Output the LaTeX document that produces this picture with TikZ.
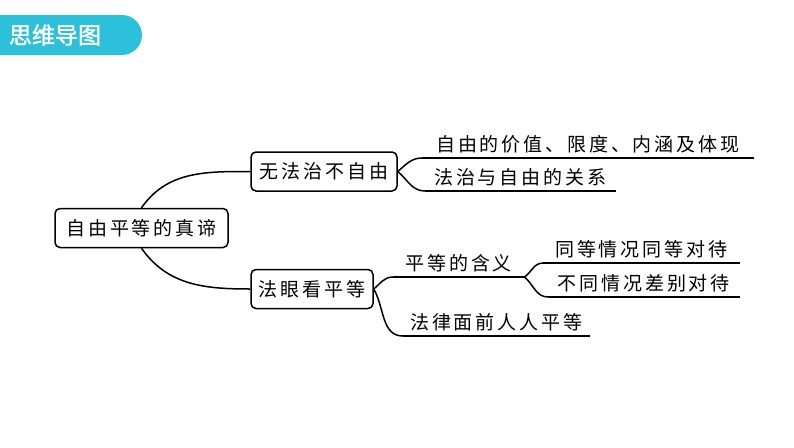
\documentclass[tikz,border=0pt]{standalone}
\usepackage{fontspec}
\usepackage{xcolor}
\usepackage{tikz}
\newfontfamily\cjk[LetterSpace=15]{Noto Sans CJK SC}
\newfontfamily\cjktitle[FakeBold=1.5]{Noto Sans CJK SC}
\definecolor{banner}{HTML}{2CC0DA}

\begin{document}
\begin{tikzpicture}[x=1pt,y=-1pt,line width=1.5pt,
  box/.style={draw=black,rounded corners=5pt,minimum height=39pt,inner sep=0pt,font=\cjk\fontsize{19}{21}\selectfont},
  leaf/.style={anchor=south west,inner xsep=0pt,inner ysep=4pt,font=\cjk\fontsize{19}{21}\selectfont}]
\useasboundingbox (0,0) rectangle (794,447);
\fill[banner] (0,15) -- (122,15) arc[start angle=-90,end angle=90,radius=20] -- (0,55) -- cycle;
\node[text=white,font=\cjktitle\fontsize{23}{25}\selectfont] (title) at (55,35) {思维导图};
\node[box,minimum width=173pt] (root) at (141.5,228) {自由平等的真谛};
\node[box,minimum width=146pt] (free) at (324,171.5) {无法治不自由};
\node[box,minimum width=122pt] (equal) at (312,289) {法眼看平等};
\node[leaf,minimum width=330pt] (value) at (422,158) {自由的价值、限度、内涵及体现};
\node[leaf,minimum width=189pt] (relation) at (425,191) {法治与自由的关系};
\node[leaf,minimum width=130pt] (meaning) at (393,277) {平等的含义};
\node[leaf,minimum width=185pt] (before) at (403,336) {法律面前人人平等};
\node[leaf,minimum width=195pt] (same) at (543,263) {同等情况同等对待};
\node[leaf,minimum width=190pt] (diff) at (548,297) {不同情况差别对待};
\foreach \n in {value,relation,meaning,before,same,diff}
  \draw (\n.south west) -- (\n.south east);
\draw (root.north) to[out=55,in=180] (free.west);
\draw (root.south) to[out=-55,in=180] (equal.west);
\draw (free.east) to[out=40,in=180] (value.south west);
\draw (free.east) to[out=-40,in=180] (relation.south west);
\draw (equal.east) to[out=40,in=180] (meaning.south west);
\draw (equal.east) to[out=-60,in=180] (before.south west);
\draw (meaning.south east) to[out=35,in=180] (same.south west);
\draw (meaning.south east) to[out=-40,in=180] (diff.south west);
\end{tikzpicture}
\end{document}
